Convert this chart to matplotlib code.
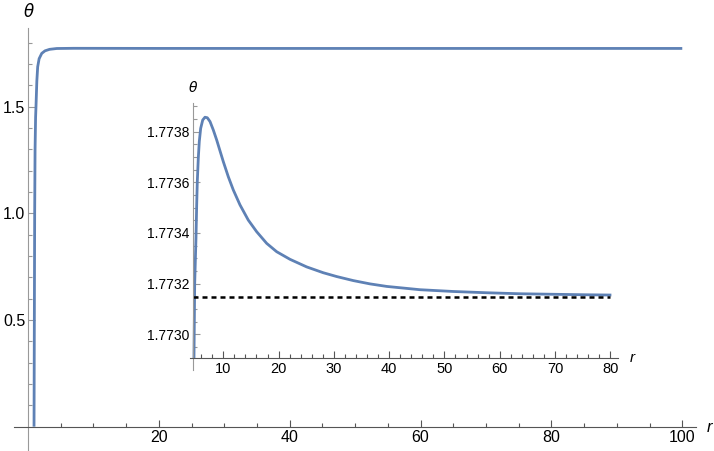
import numpy as np
import matplotlib
matplotlib.use('Agg')
import matplotlib.pyplot as plt

plt.rcParams['font.family'] = ['Liberation Sans', 'DejaVu Sans']

# main curve theta(r)
main_r = [0.92, 0.97, 1.02, 1.08, 1.16, 1.22, 1.35, 1.48, 1.7, 2.1, 2.6, 3.3, 4.4, 7.0, 10, 20, 40, 60, 80, 100]
main_theta = [0.0, 0.5, 1.0, 1.3, 1.45, 1.5, 1.62, 1.687, 1.725, 1.75, 1.762, 1.769, 1.7729,
              1.7738, 1.7737, 1.7733, 1.7732, 1.7732, 1.7732, 1.7732]

# inset: zoom on the plateau
inset_r = [4.70, 4.83, 5.06, 5.19, 5.30, 5.48, 5.66, 5.91, 6.28, 6.69, 7.11, 7.60, 8.19, 8.81,
           9.41, 10.00, 10.91, 11.81, 13.02, 14.52, 16.04, 17.85, 19.66, 22.07, 25.09, 28.09,
           30.51, 33.52, 36.54, 39.56, 45.58, 51.61, 57.65, 63.67, 69.69, 75.73, 79.95]
inset_theta = [1.772910, 1.773201, 1.773379, 1.773511, 1.773603, 1.773695, 1.773761, 1.773813,
               1.773846, 1.773857, 1.773855, 1.773840, 1.773807, 1.773767, 1.773724, 1.773682,
               1.773622, 1.773570, 1.773511, 1.773451, 1.773405, 1.773359, 1.773326, 1.773296,
               1.773266, 1.773243, 1.773228, 1.773212, 1.773199, 1.773189, 1.773176, 1.773169,
               1.773164, 1.773160, 1.773158, 1.773156, 1.773155]
asymptote = 1.773148
asym_r = [4.57, 80.0]

main_xticks = [20, 40, 60, 80, 100]
main_yticks = [0.5, 1.0, 1.5]
inset_xticks = [10, 20, 30, 40, 50, 60, 70, 80]
inset_yticks = [1.7730, 1.7732, 1.7734, 1.7736, 1.7738]

blue = '#5E81B5'
axc_y = '#999999'
axc_x = '#555555'

fig = plt.figure(figsize=(7.14, 4.51), dpi=100)

# ---- main plot ----
ax = fig.add_axes([14 / 714, 0, 682 / 714, 423 / 451])
ax.plot(main_r, main_theta, color=blue, lw=2.0, solid_capstyle='butt')
ax.set_xlim(-2.14, 102.1)
ax.set_ylim(-0.114, 1.869)
for s in ['top', 'right']:
    ax.spines[s].set_visible(False)
ax.spines['left'].set_position(('data', 0))
ax.spines['bottom'].set_position(('data', 0))
ax.spines['left'].set_color(axc_y)
ax.spines['bottom'].set_color(axc_x)
ax.set_xticks(main_xticks)
ax.set_xticks([x for x in np.arange(5, 101, 5) if x % 20], minor=True)
ax.set_yticks(main_yticks)
ax.set_yticklabels(['0.5', '1.0', '1.5'])
ax.set_yticks([y for y in np.arange(0.1, 1.85, 0.1) if abs(y * 2 - round(y * 2)) > 1e-6], minor=True)
ax.tick_params(axis='x', which='both', direction='in', color=axc_x, pad=2.5, labelsize=11.5)
ax.tick_params(axis='y', which='both', direction='in', color=axc_y, pad=2, labelsize=11.5)
ax.tick_params(which='major', length=5, width=0.8)
ax.tick_params(which='minor', length=3, width=0.8)
ax.patch.set_visible(False)
fig.text(29 / 714, 1 - 11 / 451, r'$\theta$', ha='center', va='center', fontsize=12)
fig.text(709 / 714, 1 - 428 / 451, 'r', style='italic', ha='center', va='center', fontsize=12)

# ---- inset ----
ia = fig.add_axes([190 / 714, 1 - 370 / 451, 428 / 714, 266.7 / 451])
ia.plot(inset_r, inset_theta, color=blue, lw=2.0, solid_joinstyle='round')
ia.plot(asym_r, [asymptote, asymptote], color='black', lw=1.8, linestyle=(0, (2.0, 1.6)))
ia.set_xlim(3.98, 81.4)
ia.set_ylim(1.772859, 1.773912)
for s in ['top', 'right']:
    ia.spines[s].set_visible(False)
ia.spines['left'].set_position(('data', 4.57))
ia.spines['bottom'].set_position(('data', 1.772908))
ia.spines['left'].set_color(axc_y)
ia.spines['bottom'].set_color(axc_x)
ia.set_xticks(inset_xticks)
ia.set_xticks([x for x in np.arange(6, 81, 2) if x % 10], minor=True)
ia.set_yticks(inset_yticks)
ia.set_yticklabels(['%.4f' % v for v in inset_yticks])
ia.set_yticks([1.77295 + 0.00005 * k for k in range(20) if k % 4 != 1], minor=True)
ia.tick_params(axis='x', which='both', direction='in', color=axc_x, pad=3, labelsize=10.5)
ia.tick_params(axis='y', which='both', direction='in', color=axc_y, pad=3, labelsize=10)
ia.tick_params(which='major', length=5, width=0.8)
ia.tick_params(which='minor', length=3, width=0.8)
ia.patch.set_visible(False)
fig.text(193 / 714, 1 - 88 / 451, r'$\theta$', ha='center', va='center', fontsize=10)
fig.text(632 / 714, 1 - 358 / 451, 'r', style='italic', ha='center', va='center', fontsize=11)

fig.savefig('out.png', dpi=100)
